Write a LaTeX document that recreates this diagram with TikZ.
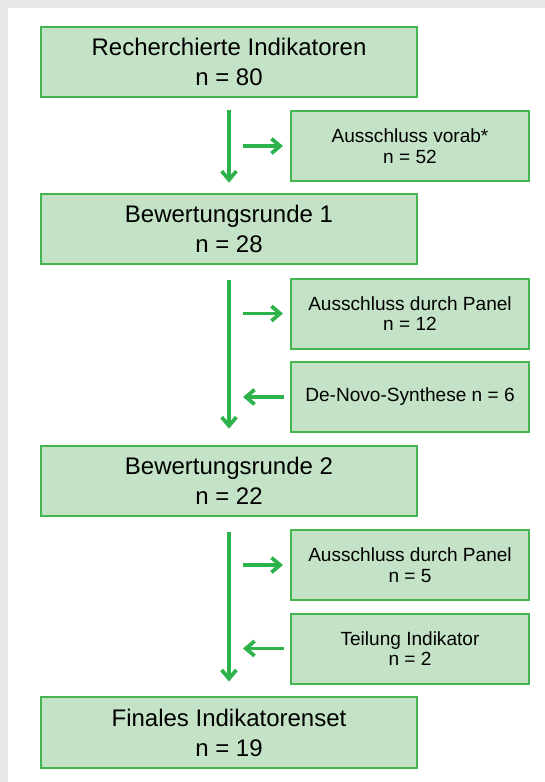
\documentclass[tikz,border=0pt]{standalone}
\usepackage{xcolor}
\usepackage{fontspec}
\setmainfont{Liberation Sans}
\usetikzlibrary{arrows.meta}

\definecolor{boxfill}{HTML}{C4E2C6}
\definecolor{boxline}{HTML}{45B552}
\definecolor{flowgreen}{HTML}{2EB24B}

\begin{document}
\begin{tikzpicture}[
    x=0.75pt, y=-0.75pt,
    stage/.style={draw=boxline, fill=boxfill, line width=1.5pt, align=center,
        minimum width=282pt, minimum height=53pt, inner sep=0pt,
        font=\fontsize{18}{22.5}\selectfont},
    side/.style={draw=boxline, fill=boxfill, line width=1.5pt, align=center,
        minimum width=179pt, minimum height=52.5pt, inner sep=0pt,
        font=\fontsize{14.3}{15.5}\selectfont},
    flow/.style={draw=flowgreen, line width=2.4pt},
    branch/.style={draw=flowgreen, line width=2.8pt},
    >={Straight Barb[length=6.5pt, width=11pt, line width=2.8pt]}
]
    % frame
    \fill[black!9] (0,0) rectangle (545,782);
    \fill[white] (8,8) rectangle (545,782);

    % main column
    \node[stage] (recherche) at (229,62)    {Recherchierte Indikatoren\\n = 80};
    \node[stage] (runde1)    at (229,229)   {Bewertungsrunde 1\\n = 28};
    \node[stage] (runde2)    at (229,481)   {Bewertungsrunde 2\\n = 22};
    \node[stage] (finale)    at (229,732.5) {Finales Indikatorenset\\n = 19};

    % side boxes
    \node[side] (vorab)   at (410,146)   {Ausschluss vorab*\\n = 52};
    \node[side] (panel1)  at (410,313.5) {Ausschluss durch Panel\\n = 12};
    \node[side] (denovo)  at (410,397)   {De-Novo-Synthese n = 6};
    \node[side] (panel2)  at (410,565)   {Ausschluss durch Panel\\n = 5};
    \node[side] (teilung) at (410,648.5) {Teilung Indikator\\n = 2};

    % vertical flow
    \draw[flow, ->, shorten <=9pt, shorten >=7.5pt] (recherche) -- (runde1);
    \draw[flow, ->, shorten <=11pt, shorten >=12pt] (runde1) -- (runde2);
    \draw[flow, ->, shorten <=11pt, shorten >=11pt] (runde2) -- (finale);

    % side flows
    \coordinate (aus1) at (243,146);
    \coordinate (aus2) at (243,313.5);
    \coordinate (aus3) at (243,565);
    \coordinate (ein1) at (243,397);
    \coordinate (ein2) at (243,648.5);
    \draw[branch, ->, shorten >=5pt] (aus1) -- (vorab);
    \draw[branch, ->, shorten >=5pt] (aus2) -- (panel1);
    \draw[branch, ->, shorten >=5pt] (aus3) -- (panel2);
    \draw[branch, ->, shorten <=4pt] (denovo) -- (ein1);
    \draw[branch, ->, shorten <=4pt] (teilung) -- (ein2);
\end{tikzpicture}
\end{document}
